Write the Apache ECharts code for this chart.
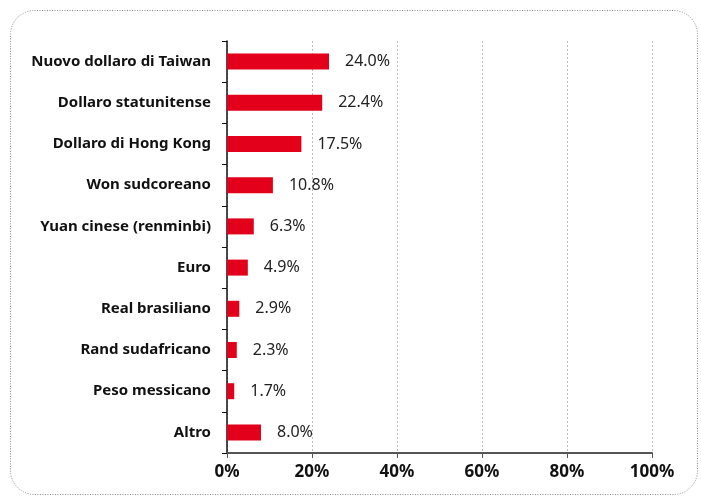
<!DOCTYPE html>
<html>
<head>
<meta charset="utf-8">
<script src="https://cdn.jsdelivr.net/npm/echarts@6/dist/echarts.min.js"></script>
<style>
  html, body { margin: 0; padding: 0; background: #fff; }
  #chart { width: 701px; height: 497px; }
</style>
</head>
<body>
<div id="chart"></div>
<script>
const categories = [
  'Nuovo dollaro di Taiwan',
  'Dollaro statunitense',
  'Dollaro di Hong Kong',
  'Won sudcoreano',
  'Yuan cinese (renminbi)',
  'Euro',
  'Real brasiliano',
  'Rand sudafricano',
  'Peso messicano',
  'Altro'
]
const shares = [24.0, 22.4, 17.5, 10.8, 6.3, 4.9, 2.9, 2.3, 1.7, 8.0]
const xTicks = [0, 20, 40, 60, 80, 100]

const chart = echarts.init(document.getElementById('chart'))

const option = {
  animation: false,
  textStyle: { fontFamily: 'Noto Sans' },
  graphic: [
    {
      type: 'rect',
      shape: { x: 10.5, y: 10.5, width: 687, height: 484, r: 24 },
      style: { fill: 'none', stroke: '#888', lineWidth: 1, lineDash: [1, 1.5] },
      silent: true
    }
  ],
  grid: { left: 227, right: 49, top: 41, bottom: 44 },
  xAxis: {
    type: 'value',
    min: xTicks[0],
    max: xTicks[xTicks.length - 1],
    interval: 20,
    axisLine: { show: true, lineStyle: { color: '#555', width: 2 } },
    axisTick: { show: true, length: 5, lineStyle: { color: '#555' } },
    axisLabel: {
      formatter: '{value}%',
      color: '#111',
      fontWeight: 'bold',
      fontSize: 17,
      margin: 11
    },
    splitLine: { show: true, lineStyle: { color: '#bbb', type: [2, 2], width: 1 } }
  },
  yAxis: {
    type: 'category',
    data: categories,
    inverse: true,
    axisLine: { show: true, lineStyle: { color: '#111', width: 1.5 } },
    axisTick: { show: true, length: 5, lineStyle: { color: '#111' } },
    axisLabel: {
      color: '#111',
      fontWeight: 'bold',
      fontSize: 15,
      margin: 16
    }
  },
  series: [
    {
      type: 'bar',
      data: shares,
      barWidth: 16,
      itemStyle: { color: '#e2001a' },
      label: {
        show: true,
        position: 'right',
        distance: 16,
        color: '#222',
        fontSize: 16,
        formatter: p => p.value.toFixed(1) + '%'
      }
    }
  ]
}

chart.setOption(option)
</script>
</body>
</html>
